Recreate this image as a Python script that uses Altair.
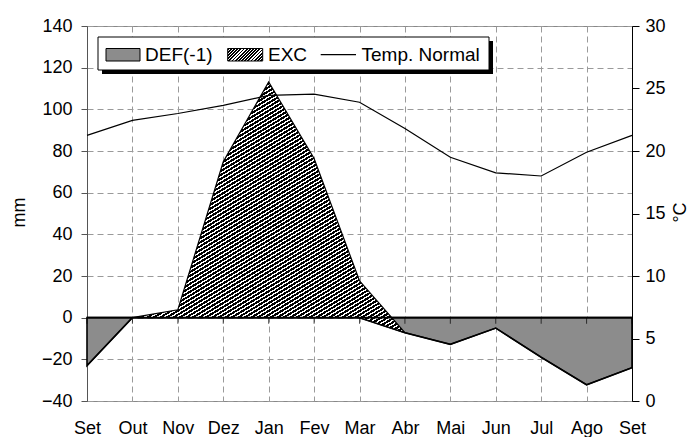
import json
import altair as alt
import pandas as pd

# ---------------- data ----------------
months = ["Set", "Out", "Nov", "Dez", "Jan", "Fev", "Mar", "Abr", "Mai", "Jun", "Jul", "Ago", "Set"]
def_vals = [-23.0, 0.0, 0.0, 0.0, 0.0, 0.0, 0.0, -7.2, -12.8, -5.0, -19.0, -32.2, -24.0]
exc_vals = [0.0, 0.0, 3.8, 74.8, 113.2, 76.4, 17.7, 0.0, 0.0, 0.0, 0.0, 0.0, 0.0]
temp_vals = [21.25, 22.45, 23.0, 23.65, 24.45, 24.55, 23.9, 21.8, 19.5, 18.25, 18.0, 19.9, 21.25]
legend_labels = ["DEF(-1)", "EXC", "Temp. Normal"]
mm_ticks = list(range(-40, 141, 20))
c_ticks = list(range(0, 31, 5))

df = pd.DataFrame({
    "i": list(range(len(months))),
    "month": months,
    "def": def_vals,
    "exc": exc_vals,
    "temp": temp_vals,
})
one = pd.DataFrame({"k": [0]})

W, H = 545, 375
FONT = "Liberation Sans"


def hatch(periods, gx, gy, dark=0.6):
    stops = []
    for k in range(periods):
        a = k / periods
        b = (k + dark) / periods
        c = (k + 1) / periods
        stops += [
            {"offset": round(a, 5), "color": "#000000"},
            {"offset": round(b, 5), "color": "#000000"},
            {"offset": round(b, 5), "color": "#ffffff"},
            {"offset": round(min(c, 1.0), 5), "color": "#ffffff"},
        ]
    return {"gradient": "linear", "x1": 0, "y1": 0, "x2": gx, "y2": gy, "stops": stops}


def grad_for(w, h, spacing=2.3):
    k = h / w
    a = (1 + k) / (1 + k * k)
    n = int(round((w + h) / 1.4142 / spacing))
    return hatch(n, round(a, 4), round(a * k, 4))


label_expr = json.dumps(months) + "[datum.value]"

x_axis = alt.Axis(
    values=list(range(len(months))), labelExpr=label_expr, grid=True,
    gridDash=[6, 4], gridColor="#9a9a9a", ticks=False, tickSize=0, domain=False,
    labelOverlap=False, labelFlush=False, labelBound=False, labelPadding=18,
    title=None,
)
x_scale = alt.Scale(domain=[0, len(months) - 1], nice=False, zero=False)


def xenc(field="i"):
    return alt.X(f"{field}:Q", scale=x_scale, axis=x_axis)


y_axis = alt.Axis(
    values=mm_ticks, grid=True, gridDash=[6, 4], gridColor="#9a9a9a",
    tickSize=6, tickColor="#555555", domainColor="#555555", labelPadding=9,
    title="mm", titleAngle=270, titleAlign="center", titleBaseline="middle",
    titleX=-68, titleY=186, titleFontSize=18,
)
y_scale = alt.Scale(domain=[-40, 140], nice=False, zero=False)

# gradient sized to the EXC polygon's bounding box
exc_w = W * 6 / 12
exc_h = (max(d + e for d, e in zip(def_vals, exc_vals)) - min(def_vals[6:8])) / 180 * H
exc_fill = grad_for(exc_w, exc_h)

base = alt.Chart(df)

def_area = base.mark_area(fill="#8c8c8c", stroke="black", strokeWidth=1.6).encode(
    x=xenc(),
    y=alt.Y("def:Q", scale=y_scale, axis=y_axis),
    y2=alt.Y2(datum=0),
)

exc_area = base.transform_calculate(top="datum.def + datum.exc").mark_area(
    fill=exc_fill, stroke="black", strokeWidth=1.2
).encode(
    x=xenc(),
    y=alt.Y("top:Q", scale=y_scale, axis=y_axis),
    y2=alt.Y2("def:Q"),
)

zero_rule = alt.Chart(one).mark_rule(color="black", strokeWidth=1.6).encode(
    y=alt.YDatum(0, scale=y_scale, axis=y_axis)
)

zero_ticks = base.mark_tick(orient="vertical", size=6, thickness=1, yOffset=3, color="black").encode(
    x=xenc(),
    y=alt.YDatum(0, scale=y_scale, axis=y_axis),
)

# ---------------- legend (box with shadow) ----------------
def box(x, x2, y, y2, **kw):
    return alt.Chart(one).mark_rect(**kw).encode(
        x=alt.value(x), x2=alt.value(x2), y=alt.value(y), y2=alt.value(y2)
    )

lg_shadow = box(15, 406, 15, 48, fill="black")
lg_box = box(11, 402, 11, 44, fill="white", stroke="black", strokeWidth=1)
lg_def = box(19, 53, 22.5, 35, fill="#8c8c8c", stroke="black", strokeWidth=1)
lg_exc = box(140.7, 175.7, 22.5, 35, fill=grad_for(35, 12.5), stroke="black", strokeWidth=1)
lg_line = alt.Chart(one).mark_rule(color="black", strokeWidth=1.2).encode(
    x=alt.value(233.7), x2=alt.value(269), y=alt.value(28.7)
)


def lg_text(x, txt):
    return alt.Chart(one).mark_text(
        align="left", baseline="alphabetic", fontSize=19, font=FONT, color="black"
    ).encode(x=alt.value(x), y=alt.value(35), text=alt.value(txt))


left = alt.layer(
    def_area, exc_area, zero_rule, zero_ticks,
    lg_shadow, lg_box, lg_def, lg_exc, lg_line,
    lg_text(58, legend_labels[0]), lg_text(181, legend_labels[1]), lg_text(274.5, legend_labels[2]),
)

temp_line = base.mark_line(color="black", strokeWidth=1.2).encode(
    x=xenc(),
    y=alt.Y(
        "temp:Q",
        scale=alt.Scale(domain=[0, 30], nice=False, zero=False),
        axis=alt.Axis(
            orient="right", values=c_ticks, grid=False, tickSize=7, tickColor="black",
            domainColor="black", labelPadding=6, title="°C", titleAngle=270,
            titleAlign="center", titleBaseline="middle", titleX=48, titleY=186,
            titleFontSize=18,
        ),
    ),
)

chart = (
    alt.layer(left, temp_line)
    .resolve_scale(y="independent")
    .properties(
        width=W, height=H, autosize="none",
        padding={"left": 79, "top": 18, "right": 60, "bottom": 36},
    )
    .configure_view(stroke="#888888", strokeWidth=1)
    .configure_axis(
        labelFont=FONT, labelFontSize=18, labelColor="black",
        titleFont=FONT, titleFontWeight="normal", titleColor="black",
        domainWidth=1, tickWidth=1,
    )
)

chart.save("out.html", embed_options={"renderer": "svg", "actions": False})
